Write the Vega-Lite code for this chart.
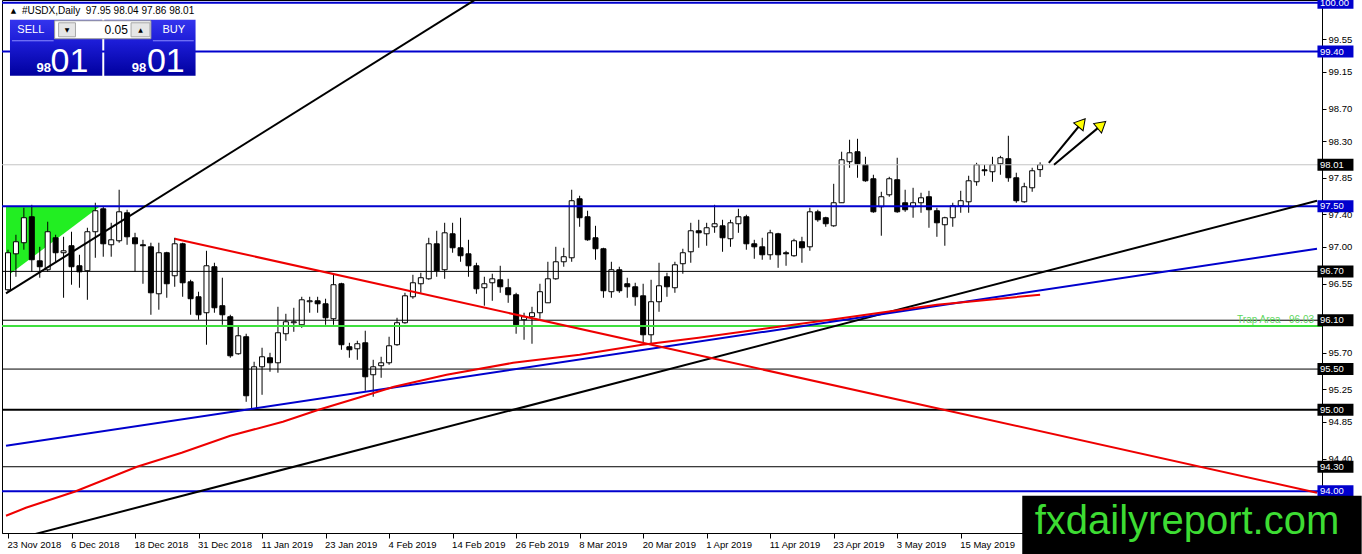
{
  "$schema": "https://vega.github.io/schema/vega-lite/v6.json",
  "width": 1320,
  "height": 533,
  "autosize": {"type": "none"},
  "padding": {"left": 2, "top": 0, "right": 40, "bottom": 21},
  "background": "white",
  "config": {
    "view": {"stroke": "black", "strokeWidth": 1},
    "font": "Liberation Sans",
    "axis": {"grid": false}
  },
  "datasets": {
    "candles": [
      {"i":0,"o":96.474,"h":96.966,"l":96.45,"c":96.929},
      {"i":1,"o":96.916,"h":97.15,"l":96.634,"c":97.064},
      {"i":2,"o":97.052,"h":97.482,"l":96.966,"c":97.359},
      {"i":3,"o":97.371,"h":97.518,"l":96.695,"c":96.843},
      {"i":4,"o":96.83,"h":97.002,"l":96.622,"c":96.757},
      {"i":5,"o":96.72,"h":97.31,"l":96.695,"c":97.187},
      {"i":6,"o":97.113,"h":97.15,"l":96.818,"c":96.929},
      {"i":7,"o":96.929,"h":97.125,"l":96.376,"c":96.953},
      {"i":8,"o":97.015,"h":97.187,"l":96.536,"c":96.757},
      {"i":9,"o":96.769,"h":96.904,"l":96.499,"c":96.695},
      {"i":10,"o":96.708,"h":97.236,"l":96.351,"c":97.187},
      {"i":11,"o":97.187,"h":97.543,"l":96.867,"c":97.445},
      {"i":12,"o":97.469,"h":97.494,"l":96.88,"c":97.039},
      {"i":13,"o":97.027,"h":97.297,"l":96.88,"c":97.088},
      {"i":14,"o":97.076,"h":97.703,"l":97.052,"c":97.432},
      {"i":15,"o":97.42,"h":97.457,"l":97.027,"c":97.125},
      {"i":16,"o":97.113,"h":97.174,"l":96.695,"c":97.039},
      {"i":17,"o":97.027,"h":97.088,"l":96.548,"c":97.015},
      {"i":18,"o":97.002,"h":97.052,"l":96.167,"c":96.437},
      {"i":19,"o":96.425,"h":97.052,"l":96.229,"c":96.929},
      {"i":20,"o":96.929,"h":96.941,"l":96.376,"c":96.548},
      {"i":21,"o":96.646,"h":97.113,"l":96.511,"c":97.039},
      {"i":22,"o":97.039,"h":97.052,"l":96.388,"c":96.56},
      {"i":23,"o":96.572,"h":96.597,"l":96.167,"c":96.364},
      {"i":24,"o":96.388,"h":96.45,"l":96.106,"c":96.167},
      {"i":25,"o":96.192,"h":96.953,"l":95.799,"c":96.769},
      {"i":26,"o":96.757,"h":96.806,"l":96.192,"c":96.253},
      {"i":27,"o":96.278,"h":96.622,"l":96.044,"c":96.167},
      {"i":28,"o":96.143,"h":96.167,"l":95.639,"c":95.663},
      {"i":29,"o":95.688,"h":96.02,"l":95.676,"c":95.909},
      {"i":30,"o":95.897,"h":95.934,"l":95.098,"c":95.172},
      {"i":31,"o":95.012,"h":95.59,"l":95.0,"c":95.528},
      {"i":32,"o":95.528,"h":95.762,"l":95.184,"c":95.651},
      {"i":33,"o":95.639,"h":95.7,"l":95.467,"c":95.577},
      {"i":34,"o":95.577,"h":96.265,"l":95.455,"c":95.946},
      {"i":35,"o":95.934,"h":96.179,"l":95.848,"c":96.081},
      {"i":36,"o":96.069,"h":96.253,"l":95.958,"c":96.081},
      {"i":37,"o":96.044,"h":96.388,"l":96.007,"c":96.351},
      {"i":38,"o":96.327,"h":96.388,"l":96.192,"c":96.339},
      {"i":39,"o":96.339,"h":96.388,"l":96.192,"c":96.302},
      {"i":40,"o":96.302,"h":96.364,"l":96.044,"c":96.13},
      {"i":41,"o":96.118,"h":96.658,"l":96.044,"c":96.536},
      {"i":42,"o":96.548,"h":96.56,"l":95.737,"c":95.799},
      {"i":43,"o":95.774,"h":95.823,"l":95.639,"c":95.737},
      {"i":44,"o":95.749,"h":95.848,"l":95.614,"c":95.811},
      {"i":45,"o":95.823,"h":95.971,"l":95.233,"c":95.405},
      {"i":46,"o":95.43,"h":95.614,"l":95.16,"c":95.528},
      {"i":47,"o":95.541,"h":95.651,"l":95.393,"c":95.577},
      {"i":48,"o":95.577,"h":95.897,"l":95.553,"c":95.786},
      {"i":49,"o":95.799,"h":96.13,"l":95.786,"c":96.069},
      {"i":50,"o":96.069,"h":96.437,"l":96.057,"c":96.4},
      {"i":51,"o":96.388,"h":96.658,"l":96.364,"c":96.56},
      {"i":52,"o":96.548,"h":96.683,"l":96.437,"c":96.622},
      {"i":53,"o":96.609,"h":97.113,"l":96.597,"c":97.039},
      {"i":54,"o":97.039,"h":97.199,"l":96.634,"c":96.708},
      {"i":55,"o":96.72,"h":97.297,"l":96.609,"c":97.174},
      {"i":56,"o":97.162,"h":97.297,"l":96.929,"c":96.99},
      {"i":57,"o":96.99,"h":97.359,"l":96.818,"c":96.892},
      {"i":58,"o":96.916,"h":97.088,"l":96.634,"c":96.769},
      {"i":59,"o":96.769,"h":96.806,"l":96.425,"c":96.486},
      {"i":60,"o":96.499,"h":96.634,"l":96.278,"c":96.548},
      {"i":61,"o":96.56,"h":96.671,"l":96.339,"c":96.609},
      {"i":62,"o":96.597,"h":96.769,"l":96.437,"c":96.511},
      {"i":63,"o":96.499,"h":96.609,"l":96.314,"c":96.413},
      {"i":64,"o":96.413,"h":96.437,"l":95.934,"c":96.044},
      {"i":65,"o":96.106,"h":96.192,"l":95.86,"c":96.143},
      {"i":66,"o":96.143,"h":96.265,"l":95.811,"c":96.192},
      {"i":67,"o":96.192,"h":96.548,"l":96.118,"c":96.45},
      {"i":68,"o":96.314,"h":96.818,"l":96.314,"c":96.609},
      {"i":69,"o":96.609,"h":97.002,"l":96.597,"c":96.818},
      {"i":70,"o":96.818,"h":96.99,"l":96.757,"c":96.88},
      {"i":71,"o":96.867,"h":97.703,"l":96.818,"c":97.568},
      {"i":72,"o":97.592,"h":97.629,"l":97.248,"c":97.359},
      {"i":73,"o":97.371,"h":97.445,"l":97.076,"c":97.088},
      {"i":74,"o":97.113,"h":97.26,"l":96.843,"c":96.978},
      {"i":75,"o":96.978,"h":96.99,"l":96.376,"c":96.462},
      {"i":76,"o":96.45,"h":96.818,"l":96.376,"c":96.72},
      {"i":77,"o":96.72,"h":96.757,"l":96.437,"c":96.462},
      {"i":78,"o":96.548,"h":96.622,"l":96.376,"c":96.511},
      {"i":79,"o":96.511,"h":96.56,"l":96.278,"c":96.388},
      {"i":80,"o":96.4,"h":96.548,"l":95.823,"c":95.921},
      {"i":81,"o":95.921,"h":96.597,"l":95.799,"c":96.327},
      {"i":82,"o":96.327,"h":96.806,"l":96.204,"c":96.523},
      {"i":83,"o":96.634,"h":96.683,"l":96.388,"c":96.511},
      {"i":84,"o":96.499,"h":96.818,"l":96.437,"c":96.781},
      {"i":85,"o":96.794,"h":96.978,"l":96.671,"c":96.929},
      {"i":86,"o":96.941,"h":97.297,"l":96.806,"c":97.199},
      {"i":87,"o":97.199,"h":97.334,"l":96.99,"c":97.174},
      {"i":88,"o":97.162,"h":97.297,"l":97.015,"c":97.236},
      {"i":89,"o":97.248,"h":97.518,"l":97.174,"c":97.285},
      {"i":90,"o":97.26,"h":97.334,"l":96.941,"c":97.113},
      {"i":91,"o":97.101,"h":97.334,"l":97.002,"c":97.297},
      {"i":92,"o":97.285,"h":97.469,"l":97.174,"c":97.371},
      {"i":93,"o":97.371,"h":97.396,"l":96.966,"c":97.039},
      {"i":94,"o":97.039,"h":97.088,"l":96.855,"c":97.002},
      {"i":95,"o":97.002,"h":97.113,"l":96.843,"c":96.904},
      {"i":96,"o":96.904,"h":97.211,"l":96.843,"c":97.174},
      {"i":97,"o":97.162,"h":97.174,"l":96.744,"c":96.904},
      {"i":98,"o":96.929,"h":96.953,"l":96.769,"c":96.916},
      {"i":99,"o":96.892,"h":97.101,"l":96.88,"c":97.076},
      {"i":100,"o":97.064,"h":97.125,"l":96.806,"c":96.99},
      {"i":101,"o":97.002,"h":97.482,"l":96.953,"c":97.432},
      {"i":102,"o":97.432,"h":97.457,"l":97.31,"c":97.334},
      {"i":103,"o":97.359,"h":97.371,"l":97.248,"c":97.285},
      {"i":104,"o":97.26,"h":97.776,"l":97.248,"c":97.543},
      {"i":105,"o":97.543,"h":98.17,"l":97.543,"c":98.071},
      {"i":106,"o":98.047,"h":98.317,"l":97.973,"c":98.157},
      {"i":107,"o":98.17,"h":98.329,"l":97.85,"c":98.022},
      {"i":108,"o":98.01,"h":98.108,"l":97.801,"c":97.813},
      {"i":109,"o":97.838,"h":97.887,"l":97.42,"c":97.432},
      {"i":110,"o":97.494,"h":97.678,"l":97.138,"c":97.617},
      {"i":111,"o":97.641,"h":97.862,"l":97.617,"c":97.838},
      {"i":112,"o":97.826,"h":98.096,"l":97.42,"c":97.432},
      {"i":113,"o":97.543,"h":97.703,"l":97.432,"c":97.457},
      {"i":114,"o":97.494,"h":97.727,"l":97.359,"c":97.543},
      {"i":115,"o":97.543,"h":97.666,"l":97.42,"c":97.604},
      {"i":116,"o":97.617,"h":97.69,"l":97.236,"c":97.457},
      {"i":117,"o":97.445,"h":97.482,"l":97.125,"c":97.297},
      {"i":118,"o":97.273,"h":97.371,"l":97.015,"c":97.359},
      {"i":119,"o":97.359,"h":97.543,"l":97.248,"c":97.506},
      {"i":120,"o":97.506,"h":97.69,"l":97.42,"c":97.568},
      {"i":121,"o":97.555,"h":97.875,"l":97.42,"c":97.813},
      {"i":122,"o":97.801,"h":98.034,"l":97.752,"c":98.01},
      {"i":123,"o":97.948,"h":98.01,"l":97.875,"c":97.936},
      {"i":124,"o":97.924,"h":98.108,"l":97.801,"c":98.01},
      {"i":125,"o":98.022,"h":98.12,"l":97.887,"c":98.096},
      {"i":126,"o":98.084,"h":98.366,"l":97.801,"c":97.85},
      {"i":127,"o":97.85,"h":97.912,"l":97.543,"c":97.568},
      {"i":128,"o":97.555,"h":97.789,"l":97.543,"c":97.74},
      {"i":129,"o":97.727,"h":97.973,"l":97.678,"c":97.936},
      {"i":130,"o":97.95,"h":98.04,"l":97.86,"c":98.01}
    ],
    "levels": [
      {"p":100.0,"kind":"key"},
      {"p":99.4,"kind":"key"},
      {"p":97.5,"kind":"key"},
      {"p":94.0,"kind":"key"},
      {"p":96.7,"kind":"level"},
      {"p":96.1,"kind":"level"},
      {"p":95.5,"kind":"level"},
      {"p":95.0,"kind":"strong"},
      {"p":94.3,"kind":"level"},
      {"p":96.03,"kind":"trap"},
      {"p":98.01,"kind":"bid"}
    ],
    "zone": [
      {"i":-0.25,"lo":96.63,"hi":97.5},
      {"i":11.6,"lo":97.5,"hi":97.5}
    ],
    "trends": [
      {"line":"steep","i":-0.25,"p":96.43},
      {"line":"steep","i":62,"p":100.23},
      {"line":"base","i":-0.25,"p":93.38},
      {"line":"base","i":164.875,"p":97.568},
      {"line":"channel","i":-0.25,"p":94.558},
      {"line":"channel","i":164.875,"p":96.978},
      {"line":"fall","i":21,"p":97.101},
      {"line":"fall","i":164.875,"p":93.98}
    ],
    "curve": [
      {"i":-0.25,"p":93.698},
      {"i":2.25,"p":93.796},
      {"i":8.375,"p":93.993},
      {"i":16.25,"p":94.3},
      {"i":21.875,"p":94.472},
      {"i":28,"p":94.681},
      {"i":34.625,"p":94.853},
      {"i":39.125,"p":95.0},
      {"i":44.125,"p":95.147},
      {"i":48.625,"p":95.283},
      {"i":55.25,"p":95.43},
      {"i":63.625,"p":95.577},
      {"i":72,"p":95.676},
      {"i":79.875,"p":95.799},
      {"i":87,"p":95.885},
      {"i":104.5,"p":96.118},
      {"i":117,"p":96.29},
      {"i":130,"p":96.413}
    ],
    "arrows": [
      {"i0":131.1,"p0":98.034,"i1":135.25,"p1":98.526,"dir":40},
      {"i0":131.75,"p0":98.01,"i1":137.75,"p1":98.5,"dir":50}
    ],
    "one": [{}]
  },
  "resolve": {"scale": {"color": "independent"}},
  "layer": [
    {
      "data": {"name": "zone"},
      "mark": {"type": "area", "color": "#22ee22", "opacity": 1},
      "encoding": {
        "x": {
          "field": "i", "type": "quantitative", "title": null,
          "scale": {"domain": [-0.125, 164.875], "nice": false, "zero": false},
          "axis": {
            "values": [0, 8, 16, 24, 32, 40, 48, 56, 64, 72, 80, 88, 96, 104, 112, 120],
            "labelExpr": "['23 Nov 2018','6 Dec 2018','18 Dec 2018','31 Dec 2018','11 Jan 2019','23 Jan 2019','4 Feb 2019','14 Feb 2019','26 Feb 2019','8 Mar 2019','20 Mar 2019','1 Apr 2019','11 Apr 2019','23 Apr 2019','3 May 2019','15 May 2019'][round(datum.value / 8)]",
            "labelAlign": "left", "labelOffset": -1, "labelBaseline": "top", "labelPadding": 1,
            "labelFontSize": 9.5, "labelColor": "black",
            "tickSize": 5, "tickColor": "black", "domainColor": "black",
            "labelOverlap": false, "labelFlush": false, "labelBound": false,
            "title": null, "grid": false, "orient": "bottom"
          }
        },
        "y": {
          "field": "lo", "type": "quantitative", "title": null,
          "scale": {"domain": [93.486, 100.034], "nice": false, "zero": false},
          "axis": {
            "orient": "right",
            "values": [99.55, 99.15, 98.7, 98.3, 97.85, 97.4, 97.0, 96.55, 95.7, 95.25, 94.85, 94.4],
            "format": ".2f", "labelFontSize": 9.5, "labelColor": "black", "labelPadding": 2,
            "tickSize": 4, "tickColor": "black", "domainColor": "black",
            "labelOverlap": false, "labelFlush": false, "labelBound": false,
            "title": null, "grid": false
          }
        },
        "y2": {"field": "hi"}
      }
    },
    {
      "data": {"name": "candles"},
      "mark": {"type": "rule", "color": "black", "strokeWidth": 1},
      "encoding": {
        "x": {"field": "i", "type": "quantitative", "title": null},
        "y": {"field": "l", "type": "quantitative", "title": null},
        "y2": {"field": "h"}
      }
    },
    {
      "data": {"name": "candles"},
      "mark": {"type": "bar", "width": 5, "stroke": "black", "strokeWidth": 1},
      "encoding": {
        "x": {"field": "i", "type": "quantitative", "title": null},
        "y": {"field": "o", "type": "quantitative", "title": null},
        "y2": {"field": "c"},
        "color": {"condition": {"test": "datum.c >= datum.o", "value": "white"}, "value": "black"}
      }
    },
    {
      "data": {"name": "levels"},
      "mark": {"type": "rule"},
      "encoding": {
        "y": {"field": "p", "type": "quantitative", "title": null},
        "color": {
          "field": "kind", "type": "nominal", "legend": null,
          "scale": {"domain": ["key", "level", "strong", "trap", "bid"], "range": ["#0000cd", "#000000", "#000000", "#3ee03e", "#c4c4c4"]}
        },
        "strokeWidth": {"condition": {"test": "datum.kind == 'level' || datum.kind == 'bid'", "value": 1}, "value": 2}
      }
    },
    {
      "data": {"name": "trends"},
      "mark": {"type": "line", "strokeWidth": 2, "clip": true},
      "encoding": {
        "x": {"field": "i", "type": "quantitative", "title": null},
        "y": {"field": "p", "type": "quantitative", "title": null},
        "detail": {"field": "line"},
        "color": {
          "field": "line", "type": "nominal", "legend": null,
          "scale": {"domain": ["steep", "base", "channel", "fall"], "range": ["#000000", "#000000", "#0000cd", "#ee0000"]}
        }
      }
    },
    {
      "data": {"name": "curve"},
      "mark": {"type": "line", "strokeWidth": 2, "color": "#ee0000", "clip": true},
      "encoding": {
        "x": {"field": "i", "type": "quantitative", "title": null},
        "y": {"field": "p", "type": "quantitative", "title": null}
      }
    },
    {
      "data": {"name": "one"},
      "mark": {"type": "text", "text": "Trap Area\u00a0\u00a0\u00a096.03", "color": "#5fd85f", "fontSize": 10, "align": "right", "baseline": "middle"},
      "encoding": {
        "x": {"datum": 164.5, "type": "quantitative", "title": null},
        "y": {"datum": 96.1, "type": "quantitative", "title": null}
      }
    },
    {
      "data": {"name": "arrows"},
      "mark": {"type": "rule", "color": "black", "strokeWidth": 2},
      "encoding": {
        "x": {"field": "i0", "type": "quantitative", "title": null},
        "x2": {"field": "i1"},
        "y": {"field": "p0", "type": "quantitative", "title": null},
        "y2": {"field": "p1"}
      }
    },
    {
      "data": {"name": "arrows"},
      "mark": {"type": "point", "shape": "triangle-up", "filled": true, "fill": "#ffff00", "stroke": "black", "strokeWidth": 1, "size": 150, "opacity": 1},
      "encoding": {
        "x": {"field": "i1", "type": "quantitative", "title": null},
        "y": {"field": "p1", "type": "quantitative", "title": null},
        "angle": {"field": "dir", "type": "quantitative", "scale": null}
      }
    },
    {
      "data": {"name": "levels"},
      "transform": [{"filter": "datum.kind != 'trap'"}],
      "mark": {"type": "tick", "orient": "horizontal", "size": 36, "thickness": 12, "clip": false, "opacity": 1},
      "encoding": {
        "x": {"datum": 167.2, "type": "quantitative", "title": null},
        "y": {"field": "p", "type": "quantitative", "title": null},
        "color": {"condition": {"test": "datum.kind == 'key'", "value": "#0000cd"}, "value": "black"}
      }
    },
    {
      "data": {"name": "levels"},
      "transform": [{"filter": "datum.kind != 'trap'"}],
      "mark": {"type": "text", "color": "white", "fontSize": 9.5, "align": "left", "baseline": "middle", "clip": false},
      "encoding": {
        "x": {"datum": 165.25, "type": "quantitative", "title": null},
        "y": {"field": "p", "type": "quantitative", "title": null},
        "text": {"field": "p", "type": "quantitative", "format": ".2f"}
      }
    },
    {
      "data": {"name": "one"},
      "mark": {"type": "rect", "color": "black", "clip": false},
      "encoding": {
        "x": {"datum": 127.75, "type": "quantitative", "title": null},
        "x2": {"datum": 170.5},
        "y": {"datum": 93.943, "type": "quantitative", "title": null},
        "y2": {"datum": 93.0}
      }
    },
    {
      "data": {"name": "one"},
      "mark": {"type": "text", "text": "fxdailyreport.com", "color": "#3ddc33", "fontSize": 40, "font": "Liberation Sans", "align": "center", "baseline": "middle", "clip": false},
      "encoding": {
        "x": {"datum": 148.5, "type": "quantitative", "title": null},
        "y": {"datum": 93.62, "type": "quantitative", "title": null}
      }
    },
    {
      "data": {"name": "one"},
      "mark": {"type": "rect", "color": {"gradient": "linear", "x1": 0, "y1": 0, "x2": 0, "y2": 1, "stops": [{"offset": 0, "color": "#3434ee"}, {"offset": 0.4, "color": "#1c1cd6"}, {"offset": 1, "color": "#00009e"}]}},
      "encoding": {
        "x": {"datum": 0.25, "type": "quantitative", "title": null},
        "x2": {"datum": 11.875},
        "y": {"datum": 99.791, "type": "quantitative", "title": null},
        "y2": {"datum": 99.103}
      }
    },
    {
      "data": {"name": "one"},
      "mark": {"type": "rect", "color": {"gradient": "linear", "x1": 0, "y1": 0, "x2": 0, "y2": 1, "stops": [{"offset": 0, "color": "#3434ee"}, {"offset": 0.4, "color": "#1c1cd6"}, {"offset": 1, "color": "#00009e"}]}},
      "encoding": {
        "x": {"datum": 12.125, "type": "quantitative", "title": null},
        "x2": {"datum": 23.625},
        "y": {"datum": 99.791, "type": "quantitative", "title": null},
        "y2": {"datum": 99.103}
      }
    },
    {
      "data": {"name": "one"},
      "mark": {"type": "rule", "color": "#8a8aff", "strokeWidth": 1},
      "encoding": {
        "x": {"datum": 0.5, "type": "quantitative", "title": null},
        "x2": {"datum": 5.75},
        "y": {"datum": 99.533, "type": "quantitative", "title": null}
      }
    },
    {
      "data": {"name": "one"},
      "mark": {"type": "rule", "color": "#8a8aff", "strokeWidth": 1},
      "encoding": {
        "x": {"datum": 18.25, "type": "quantitative", "title": null},
        "x2": {"datum": 23.4},
        "y": {"datum": 99.533, "type": "quantitative", "title": null}
      }
    },
    {
      "data": {"name": "one"},
      "mark": {"type": "rect", "fill": "white", "stroke": "#9a9a9a", "strokeWidth": 1},
      "encoding": {
        "x": {"datum": 5.875, "type": "quantitative", "title": null},
        "x2": {"datum": 18.0},
        "y": {"datum": 99.779, "type": "quantitative", "title": null},
        "y2": {"datum": 99.558}
      }
    },
    {
      "data": {"name": "one"},
      "mark": {"type": "rect", "fill": "#e6e6e6", "stroke": "#a8a8a8", "strokeWidth": 1},
      "encoding": {
        "x": {"datum": 6.375, "type": "quantitative", "title": null},
        "x2": {"datum": 8.5},
        "y": {"datum": 99.754, "type": "quantitative", "title": null},
        "y2": {"datum": 99.582}
      }
    },
    {
      "data": {"name": "one"},
      "mark": {"type": "rect", "fill": "#e6e6e6", "stroke": "#a8a8a8", "strokeWidth": 1},
      "encoding": {
        "x": {"datum": 15.5, "type": "quantitative", "title": null},
        "x2": {"datum": 17.875},
        "y": {"datum": 99.754, "type": "quantitative", "title": null},
        "y2": {"datum": 99.582}
      }
    },
    {
      "data": {"name": "one"},
      "mark": {"type": "text", "text": "▼", "font": "DejaVu Sans", "fontSize": 6, "color": "black", "align": "center", "baseline": "middle"},
      "encoding": {
        "x": {"datum": 7.44, "type": "quantitative", "title": null},
        "y": {"datum": 99.668, "type": "quantitative", "title": null}
      }
    },
    {
      "data": {"name": "one"},
      "mark": {"type": "text", "text": "▲", "font": "DejaVu Sans", "fontSize": 6, "color": "black", "align": "center", "baseline": "middle"},
      "encoding": {
        "x": {"datum": 16.69, "type": "quantitative", "title": null},
        "y": {"datum": 99.668, "type": "quantitative", "title": null}
      }
    },
    {
      "data": {"name": "one"},
      "mark": {"type": "text", "text": "0.05", "fontSize": 12, "color": "black", "align": "right", "baseline": "middle"},
      "encoding": {
        "x": {"datum": 15.1, "type": "quantitative", "title": null},
        "y": {"datum": 99.668, "type": "quantitative", "title": null}
      }
    },
    {
      "data": {"name": "one"},
      "mark": {"type": "text", "text": "SELL", "fontSize": 11, "color": "white", "align": "center", "baseline": "middle"},
      "encoding": {
        "x": {"datum": 2.875, "type": "quantitative", "title": null},
        "y": {"datum": 99.668, "type": "quantitative", "title": null}
      }
    },
    {
      "data": {"name": "one"},
      "mark": {"type": "text", "text": "BUY", "fontSize": 11, "color": "white", "align": "center", "baseline": "middle"},
      "encoding": {
        "x": {"datum": 20.875, "type": "quantitative", "title": null},
        "y": {"datum": 99.668, "type": "quantitative", "title": null}
      }
    },
    {
      "data": {"name": "one"},
      "mark": {"type": "text", "text": "98", "fontSize": 13, "fontWeight": "bold", "color": "white", "align": "center", "baseline": "alphabetic"},
      "encoding": {
        "x": {"datum": 4.5, "type": "quantitative", "title": null},
        "y": {"datum": 99.152, "type": "quantitative", "title": null}
      }
    },
    {
      "data": {"name": "one"},
      "mark": {"type": "text", "text": "01", "fontSize": 34, "color": "white", "align": "center", "baseline": "alphabetic"},
      "encoding": {
        "x": {"datum": 7.75, "type": "quantitative", "title": null},
        "y": {"datum": 99.152, "type": "quantitative", "title": null}
      }
    },
    {
      "data": {"name": "one"},
      "mark": {"type": "text", "text": "98", "fontSize": 13, "fontWeight": "bold", "color": "white", "align": "center", "baseline": "alphabetic"},
      "encoding": {
        "x": {"datum": 16.5, "type": "quantitative", "title": null},
        "y": {"datum": 99.152, "type": "quantitative", "title": null}
      }
    },
    {
      "data": {"name": "one"},
      "mark": {"type": "text", "text": "01", "fontSize": 34, "color": "white", "align": "center", "baseline": "alphabetic"},
      "encoding": {
        "x": {"datum": 19.875, "type": "quantitative", "title": null},
        "y": {"datum": 99.152, "type": "quantitative", "title": null}
      }
    },
    {
      "data": {"name": "one"},
      "mark": {"type": "text", "text": "▲", "font": "DejaVu Sans", "fontSize": 7, "color": "black", "align": "center", "baseline": "middle"},
      "encoding": {
        "x": {"datum": 0.69, "type": "quantitative", "title": null},
        "y": {"datum": 99.902, "type": "quantitative", "title": null}
      }
    },
    {
      "data": {"name": "one"},
      "mark": {"type": "text", "text": "#USDX,Daily\u00a0\u00a097.95 98.04 97.86 98.01", "fontSize": 10, "color": "black", "align": "left", "baseline": "middle"},
      "encoding": {
        "x": {"datum": 1.75, "type": "quantitative", "title": null},
        "y": {"datum": 99.902, "type": "quantitative", "title": null}
      }
    }
  ]
}
